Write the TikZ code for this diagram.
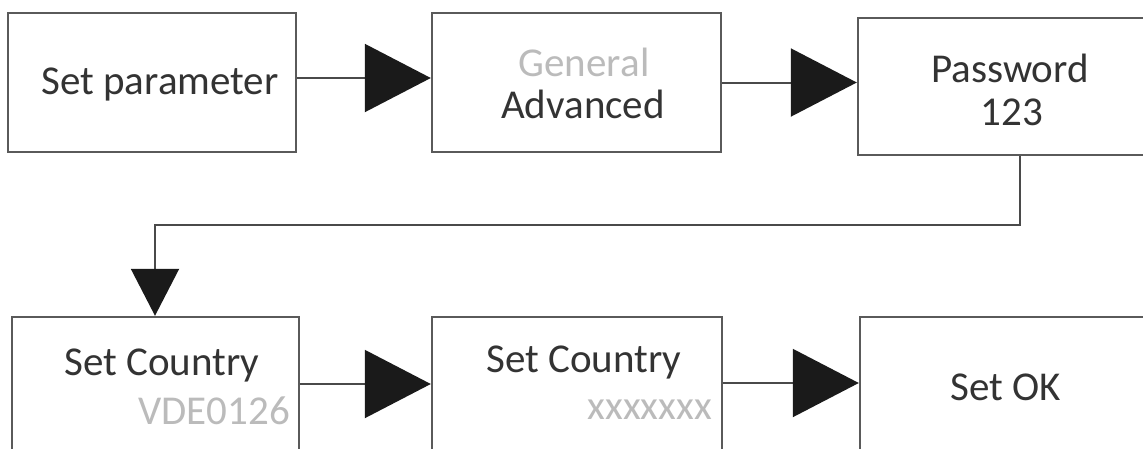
\documentclass[tikz,border=0pt]{standalone}
\usepackage{fontspec}
\setmainfont{Carlito}
\usetikzlibrary{arrows.meta,calc}
\definecolor{boxline}{HTML}{5A5A5A}
\definecolor{conline}{HTML}{4A4A4A}
\definecolor{tipfill}{HTML}{1A1A1A}
\definecolor{txtdark}{HTML}{333333}
\definecolor{txtgray}{HTML}{BBBBBB}
\begin{document}
\begin{tikzpicture}[x=1pt,y=-1pt,
  box/.style={draw=boxline,line width=2.4pt,inner sep=0pt,fill=white},
  conn/.style={draw=conline,line width=2pt},
  htip/.style={-{Triangle[length=66pt,width=68pt,color=tipfill]}},
  vtip/.style={-{Triangle[length=47pt,width=48pt,color=tipfill]}},
  lbl/.style={inner sep=0pt,text=txtdark,font=\fontsize{41}{49}\selectfont},
  glbl/.style={inner sep=0pt,text=txtgray,font=\fontsize{41}{49}\selectfont}]
\useasboundingbox (0,0) rectangle (1143,448);
% boxes
\node[box,minimum width=288pt,minimum height=139pt] (b1) at (152,82.5) {};
\node[box,minimum width=289pt,minimum height=139pt] (b2) at (576.5,82.5) {};
\node[box,minimum width=302pt,minimum height=137pt] (b3) at (1009,86.5) {};
\node[box,minimum width=287pt,minimum height=158pt] (b4) at (155.5,396) {};
\node[box,minimum width=290pt,minimum height=158pt] (b5) at (577,396) {};
\node[box,minimum width=300pt,minimum height=158pt] (b6) at (1010,396) {};
% texts
\node[lbl] (t1) at (160,84) {Set parameter};
\node[glbl] (t2a) at (584,62) {General};
\node[lbl] (t2b) at (583,104) {Advanced};
\node[lbl] (t3a) at (1010,68) {Password};
\node[lbl] (t3b) at (1012,112) {123};
\node[lbl] (t4a) at (162,365) {Set Country};
\node[glbl,anchor=east] (t4b) at (290,411) {VDE0126};
\node[lbl] (t5a) at (584,362) {Set Country};
\node[glbl,anchor=east] (t5b) at (712,410) {xxxxxxx};
\node[lbl] (t6) at (1006,387) {Set OK};
% connectors
\draw[conn,htip] ([yshift=4.5pt]b1.east) -- ([yshift=4.5pt]b1.east -| b2.west);
\draw[conn,htip] (b2.east) -- (b2.east -| b3.west);
\draw[conn,htip] ([yshift=12pt]b4.east) -- ([yshift=12pt]b4.east -| b5.west);
\draw[conn,htip] ([yshift=13pt]b5.east) -- ([yshift=13pt]b5.east -| b6.west);
\coordinate (c1) at (1020,225);
\coordinate (c2) at (155,225);
\draw[conn,vtip] (b3.south -| c1) -- (c1) -- (c2) -- (c2 |- b4.north);
\end{tikzpicture}
\end{document}
